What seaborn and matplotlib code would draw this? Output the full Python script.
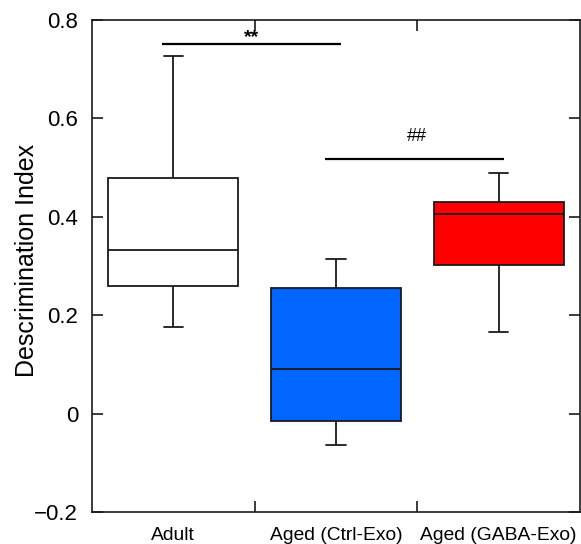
import numpy as np
import pandas as pd
import matplotlib
matplotlib.use("Agg")
import matplotlib.pyplot as plt
import seaborn as sns
from matplotlib.ticker import FixedLocator, FuncFormatter

# ---- data (five-number summaries) ----
groups = ["Adult", "Aged (Ctrl-Exo)", "Aged (GABA-Exo)"]
adult = [0.176, 0.259, 0.333, 0.479, 0.727]
ctrl_exo = [-0.064, -0.015, 0.091, 0.255, 0.314]
gaba_exo = [0.166, 0.302, 0.406, 0.430, 0.489]
colors = ["#ffffff", "#0066ff", "#ff0000"]
y_ticks = [-0.2, 0, 0.2, 0.4, 0.6, 0.8]

df = pd.DataFrame({
    "group": [groups[0]] * len(adult) + [groups[1]] * len(ctrl_exo) + [groups[2]] * len(gaba_exo),
    "value": adult + ctrl_exo + gaba_exo,
})

sns.set_theme(style="ticks")
plt.rcParams["font.family"] = ["Liberation Sans", "DejaVu Sans"]

fig = plt.figure(figsize=(5.81, 5.44), dpi=100)
ax = fig.add_axes([0.1583, 0.0588, 0.8400, 0.9044])

sns.boxplot(data=df, x="group", y="value", hue="group", palette=colors,
            order=groups, hue_order=groups, legend=False, width=0.8,
            whis=np.inf, linewidth=1.3, linecolor="#1a1a1a", saturation=1,
            capwidths=0.12, ax=ax)

ax.set_xlim(-0.5, 2.5)
ax.set_ylim(-0.2, 0.8)

# significance annotations
ax.plot([-0.07, 1.03], [0.751, 0.751], color="black", lw=1.6, solid_capstyle="butt")
ax.text(0.48, 0.765, "**", ha="center", va="center", fontsize=14, fontweight="bold",
        color="black")
ax.plot([0.93, 2.03], [0.517, 0.517], color="black", lw=1.6, solid_capstyle="butt")
ax.text(1.5, 0.564, "##", ha="center", va="center", fontsize=13, color="black")

# ticks
ax.yaxis.set_major_locator(FixedLocator(y_ticks))
ax.yaxis.set_major_formatter(FuncFormatter(lambda v, p: "0" if abs(v) < 1e-9 else f"{v:.1f}".replace("-", "\u2212")))
ax.tick_params(axis="y", direction="in", length=8, width=1.2, labelsize=16,
               pad=10, left=True, right=True, colors="#1a1a1a")
ax.tick_params(axis="x", which="major", length=0, labelsize=13.9, pad=11, colors="#1a1a1a")
ax.xaxis.set_minor_locator(FixedLocator([0.5, 1.5]))
ax.tick_params(axis="x", which="minor", direction="in", length=8, width=1.2,
               top=True, bottom=True, colors="#1a1a1a")
for lab in ax.get_xticklabels() + ax.get_yticklabels():
    lab.set_color("black")

for s in ax.spines.values():
    s.set_visible(True)
    s.set_linewidth(1.2)
    s.set_color("#1a1a1a")

ax.set_xlabel("")
ax.set_ylabel("Descrimination Index", fontsize=18, color="black")
ax.yaxis.set_label_coords(-0.108, 0.511)

fig.savefig("out.png", dpi=100)
